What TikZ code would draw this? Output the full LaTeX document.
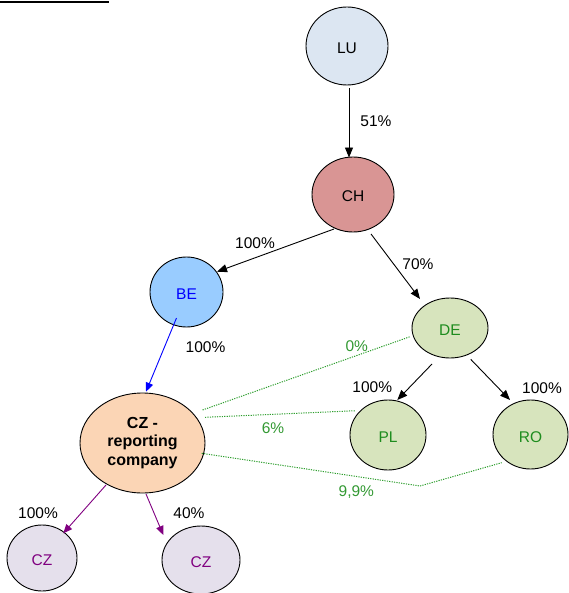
\documentclass[tikz,border=0pt]{standalone}
\usepackage{fontspec}
\setmainfont{Liberation Sans}
\usetikzlibrary{shapes.geometric,arrows.meta,calc}
\definecolor{lufill}{HTML}{DCE6F2}
\definecolor{chfill}{HTML}{D99594}
\definecolor{befill}{HTML}{99CCFF}
\definecolor{grfill}{HTML}{D7E4BD}
\definecolor{czrfill}{HTML}{FBD5B5}
\definecolor{czfill}{HTML}{E5E0EC}
\definecolor{grtext}{HTML}{1E8C1E}
\definecolor{grlabel}{HTML}{339933}
\definecolor{grline}{HTML}{2E9E2E}
\definecolor{purp}{HTML}{800080}
\begin{document}
\begin{tikzpicture}[x=1pt,y=-1pt,
  ent/.style={ellipse,draw=black,line width=0.9pt,inner sep=0pt,
    font=\fontsize{15.5}{18.5}\selectfont},
  one/.style={text height=15pt,text depth=0pt},
  pct/.style={font=\fontsize{15.5}{18.5}\selectfont,inner sep=0pt},
  arr/.style={line width=0.9pt,-{Triangle[length=10pt,width=8pt]}},
  arrs/.style={line width=0.9pt,-{Triangle[length=9pt,width=7.5pt]}},
  own/.style={grline,line width=1pt,dash pattern=on 1.2pt off 1.2pt}
]
\useasboundingbox (0,0) rectangle (568,593);
% top-left underline fragment
\draw[line width=1.6pt] (0,2) -- (109,2);

% entities
\node[ent,one,fill=lufill,minimum width=82pt,minimum height=78pt] (LU) at (347,46) {LU};
\node[ent,one,fill=chfill,minimum width=82pt,minimum height=75pt] (CH) at (353,194.5) {CH};
\node[ent,one,fill=befill,text=blue,minimum width=73pt,minimum height=70pt] (BE) at (186.5,292) {BE};
\node[ent,one,fill=grfill,text=grtext,minimum width=76pt,minimum height=60pt] (DE) at (450,328) {DE};
\node[ent,one,fill=grfill,text=grtext,minimum width=76pt,minimum height=70pt] (PL) at (388,435) {PL};
\node[ent,one,fill=grfill,text=grtext,minimum width=75pt,minimum height=69pt] (RO) at (530.5,434.5) {RO};
\node[ent,fill=czrfill,minimum width=125pt,minimum height=100pt,align=center,
  font=\fontsize{16}{18.5}\selectfont\bfseries] (CZR) at (142.5,443) {CZ -\\reporting\\company};
\node[ent,one,fill=czfill,text=purp,minimum width=70pt,minimum height=66pt] (CZa) at (42,558) {CZ};
\node[ent,one,fill=czfill,text=purp,minimum width=78pt,minimum height=68pt] (CZb) at (201,560) {CZ};

% ownership arrows
\draw[arr] ([xshift=2pt,yshift=-3pt]LU.south) -- ([xshift=-4pt,yshift=-1pt]CH.north);
\draw[arr] ($(CH)+(-19,34.5)$) -- ($(BE)+(30.5,-20.3)$);
\draw[arr] ($(CH)+(18,39.5)$) -- ($(DE)+(-30,-29)$);
\draw[arrs,blue] ($(BE)+(-10,26)$) -- ($(CZR)+(3.5,-51.3)$);
\draw[arr] ($(DE)+(-18,36)$) -- ($(PL)+(9.3,-35)$);
\draw[arr] ($(DE)+(20.7,31.3)$) -- ($(RO)+(-20.5,-34.5)$);
\draw[arrs,purp] ($(CZR)+(-36.5,42)$) -- ($(CZa)+(21.3,-24.7)$);
\draw[arrs,purp] ($(CZR)+(3.5,51)$) -- ($(CZb)+(-37.7,-25)$);

% indirect ownership (dotted)
\draw[own] ($(CZR)+(60,-33)$) -- ($(DE)+(-40,8.7)$);
\draw[own] ($(CZR)+(62.5,-25.7)$) -- ($(PL)+(-32,-24.3)$);
\coordinate (bend) at (420,486);
\draw[own] ($(CZR)+(59.2,10.3)$) -- (bend) -- ($(RO)+(-28.8,28.2)$);

% labels
\node[pct] (l1) at (376,121) {51\%};
\node[pct] (l2) at (255,243.5) {100\%};
\node[pct] (l3) at (418,264) {70\%};
\node[pct] (l4) at (205.5,347) {100\%};
\node[pct,text=grlabel] (l5) at (356.7,346.5) {0\%};
\node[pct] (l6) at (372.3,387.2) {100\%};
\node[pct] (l7) at (542,387.8) {100\%};
\node[pct,text=grlabel] (l8) at (273,428.3) {6\%};
\node[pct,text=grlabel] (l9) at (356.3,492.5) {9,9\%};
\node[pct] (l10) at (38,513) {100\%};
\node[pct] (l11) at (189,513) {40\%};
\end{tikzpicture}
\end{document}
